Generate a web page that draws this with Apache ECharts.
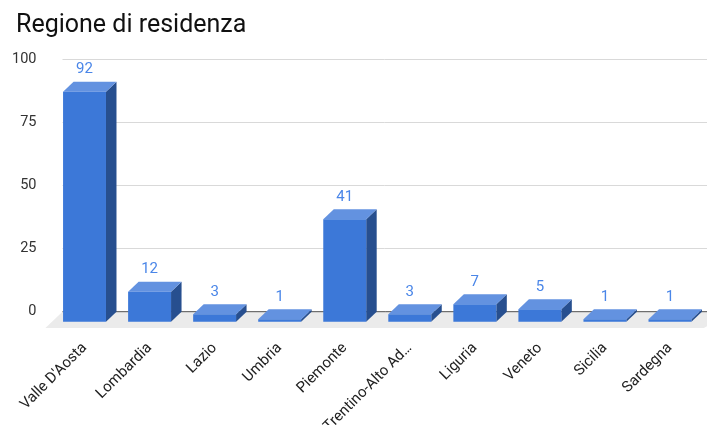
<!DOCTYPE html>
<html>
<head>
<meta charset="utf-8">
<script src="https://cdn.jsdelivr.net/npm/echarts@6/dist/echarts.min.js"></script>
<style>
  html, body { margin: 0; padding: 0; background: #fff; }
  #chart { width: 707px; height: 425px; }
</style>
</head>
<body>
<div id="chart"></div>
<script>
// Residents by region
const regions = ["Valle D'Aosta", "Lombardia", "Lazio", "Umbria", "Piemonte",
                 "Trentino-Alto Adige", "Liguria", "Veneto", "Sicilia", "Sardegna"];
const counts = [92, 12, 3, 1, 41, 3, 7, 5, 1, 1];
const yTicks = [0, 25, 50, 75, 100];

// pseudo-3D depth of the bars (pixels)
const DX = 10.5, DY = 10;
const FLOOR_FRONT = 6.3;

const FRONT = '#3c78d8', TOP = '#6392e0', SIDE = '#274f8f';

const chart = echarts.init(document.getElementById('chart'), null, { renderer: 'canvas' });

function renderFloor(params, api) {
  const cs = params.coordSys;
  const yb = cs.y + cs.height;            // front baseline
  const k = DX / DY;
  const back = yb - DY, front = yb + FLOOR_FRONT;
  const xl = cs.x, xr = cs.x + cs.width;
  return {
    type: 'group',
    children: [
      { type: 'polygon',
        shape: { points: [[xl + DX, back], [xr + DX + 20, back], [xr - FLOOR_FRONT * k + 8, front], [xl - FLOOR_FRONT * k, front]] },
        style: { fill: '#ebebeb' } },
      { type: 'line',
        shape: { x1: xl + DX, y1: back, x2: xr + DX + 20, y2: back },
        style: { stroke: '#555', lineWidth: 1 } }
    ]
  };
}

function renderBar(params, api) {
  const idx = api.value(0), val = api.value(1);
  const base = api.coord([idx, 0]);
  const top = api.coord([idx, val]);
  const w = api.size([1, 0])[0] * 0.66;
  const x0 = base[0] - w / 2, x1 = base[0] + w / 2;
  const yb = base[1], yt = top[1];
  return {
    type: 'group',
    children: [
      { type: 'polygon',
        shape: { points: [[x1, yt], [x1 + DX, yt - DY], [x1 + DX, yb - DY], [x1, yb]] },
        style: { fill: SIDE } },
      { type: 'polygon',
        shape: { points: [[x0, yt], [x1, yt], [x1 + DX, yt - DY], [x0 + DX, yt - DY]] },
        style: { fill: TOP } },
      { type: 'rect',
        shape: { x: x0, y: yt, width: w, height: yb - yt },
        style: { fill: FRONT } },
      { type: 'text',
        style: { text: String(val), x: base[0], y: yt - DY - 12,
                 align: 'center', verticalAlign: 'middle',
                 fill: '#4a86e8', font: '15px Roboto' } }
    ]
  };
}

const option = {
  animation: false,
  title: {
    text: 'Regione di residenza', left: 11, top: 8,
    textStyle: { fontFamily: 'Roboto', fontSize: 25, fontWeight: 'normal', color: '#111' }
  },
  grid: [
    // back plane: gridlines and value labels
    { left: 62.5, right: 0, top: 59.7, bottom: 113.3, containLabel: false, outerBoundsMode: 'none' },
    // front plane: bars and category labels
    { left: 52, right: 4.5, top: 71.7, bottom: 103.3, containLabel: false, outerBoundsMode: 'none' }
  ],
  xAxis: [
    { gridIndex: 0, type: 'value', show: false, min: 0, max: 1 },
    { gridIndex: 1, type: 'category', data: regions,
      axisLine: { show: false }, axisTick: { show: false },
      axisLabel: { rotate: 45, margin: 24, interval: 0, color: '#222',
                   fontFamily: 'Roboto', fontSize: 15,
                   width: 121, overflow: 'truncate', ellipsis: '…' } }
  ],
  yAxis: [
    { gridIndex: 0, type: 'value', min: 0, max: 100, interval: 25,
      axisLine: { show: false }, axisTick: { show: false },
      axisLabel: { margin: 26, color: '#333', fontFamily: 'Roboto', fontSize: 14.5,
                   formatter: v => yTicks.includes(v) ? String(v) : '' },
      splitLine: { lineStyle: { color: '#d9d9d9', width: 1 } } },
    { gridIndex: 1, type: 'value', min: 0, max: 100, show: false, splitLine: { show: false } }
  ],
  series: [
    { type: 'custom', xAxisIndex: 1, yAxisIndex: 1, z: 1,
      data: [[0, 0]], renderItem: renderFloor, silent: true },
    { type: 'custom', xAxisIndex: 1, yAxisIndex: 1, z: 2,
      data: counts.map((c, i) => [i, c]), renderItem: renderBar }
  ]
};
chart.setOption(option);
</script>
</body>
</html>
